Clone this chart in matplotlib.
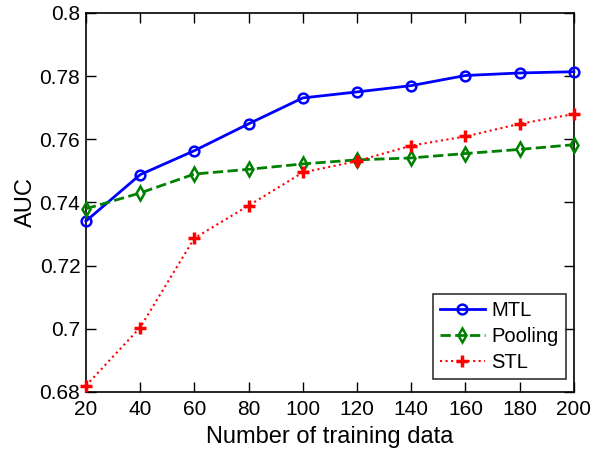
import numpy as np
import matplotlib
matplotlib.use('Agg')
import matplotlib.pyplot as plt
from matplotlib.ticker import FuncFormatter

# Data
n_train = [20, 40, 60, 80, 100, 120, 140, 160, 180, 200]
auc_mtl = [0.7341, 0.7488, 0.7564, 0.7649, 0.7731, 0.7750, 0.7770, 0.7802, 0.7810, 0.7814]
auc_pool = [0.7380, 0.7430, 0.7490, 0.7505, 0.7522, 0.7535, 0.7541, 0.7555, 0.7568, 0.7583]
auc_stl = [0.6820, 0.7004, 0.7287, 0.7390, 0.7495, 0.7531, 0.7580, 0.7609, 0.7649, 0.7680]

plt.rcParams['font.family'] = ['Liberation Sans', 'DejaVu Sans']

fig = plt.figure(figsize=(6.05, 4.55), dpi=100)
ax = fig.add_axes([0.142, 0.1385, 0.8066, 0.833])

ax.plot(n_train, auc_mtl, '-o', color='#0000ff', lw=2.0, ms=7, mfc='none', mew=1.8, label='MTL', clip_on=False, zorder=3)
ax.plot(n_train, auc_pool, '--d', color='#008000', lw=2.0, ms=7.5, mfc='none', mew=1.8, label='Pooling', clip_on=False, zorder=3)
ax.plot(n_train, auc_stl, ':+', color='#ff0000', lw=1.5, ms=9, mew=2.5, label='STL', clip_on=False, zorder=3)

ax.set_xlim(20, 200)
ax.set_ylim(0.68, 0.8)
ax.set_xticks(np.arange(20, 201, 20))
ax.set_yticks([0.68, 0.70, 0.72, 0.74, 0.76, 0.78, 0.80])
ax.yaxis.set_major_formatter(FuncFormatter(lambda v, p: ('%.2f' % v).rstrip('0')))

ax.tick_params(direction='in', top=True, right=True, length=7, width=1, labelsize=15)
ax.tick_params(axis='x', pad=6)
ax.tick_params(axis='y', pad=4)
for s in ax.spines.values():
    s.set_linewidth(1.2)

ax.set_xlabel('Number of training data', fontsize=17, labelpad=5)
ax.set_ylabel('AUC', fontsize=17, labelpad=2)

leg = ax.legend(loc='lower right', bbox_to_anchor=(0.9836, 0.0343), borderaxespad=0,
                fontsize=14.5, frameon=True, fancybox=False, edgecolor='black',
                handlelength=2.2, borderpad=0.35, labelspacing=0.35, handletextpad=0.35)
leg.get_frame().set_linewidth(1.2)

fig.savefig('out.png', dpi=100)
